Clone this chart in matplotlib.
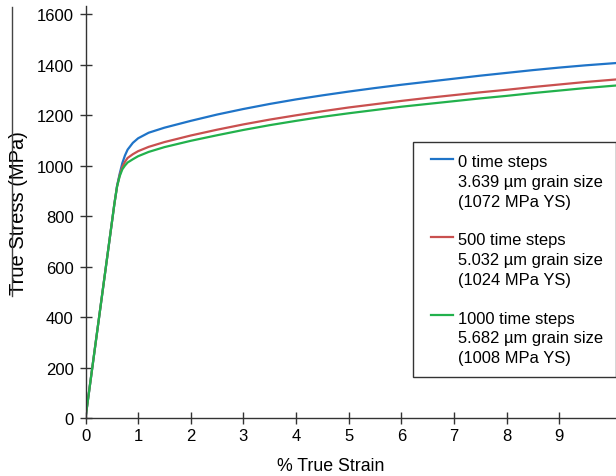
import matplotlib
matplotlib.use("Agg")
import matplotlib.pyplot as plt
from matplotlib.lines import Line2D
from matplotlib.legend_handler import HandlerLine2D

plt.rcParams["font.family"] = ["Liberation Sans", "DejaVu Sans"]

# % true strain sample points
strain = [0, 0.55, 0.60, 0.65, 0.70, 0.75, 0.80, 0.90, 1.0, 1.2, 1.5, 2.0,
          2.5, 3.0, 3.5, 4.0, 4.5, 5.0, 5.5, 6.0, 6.5, 7.0, 7.5, 8.0, 8.5,
          9.0, 9.5, 10.08]

stress_0 = [0, 850, 920, 968, 1010, 1040, 1063, 1090, 1108, 1130, 1150, 1177,
            1202, 1224, 1244, 1262, 1278, 1293, 1307, 1320, 1332, 1344, 1356,
            1367, 1378, 1388, 1397, 1406]
stress_500 = [0, 850, 918, 962, 995, 1015, 1030, 1045, 1057, 1074, 1093, 1119,
              1142, 1163, 1182, 1199, 1215, 1230, 1243, 1256, 1268, 1279, 1290,
              1300, 1311, 1321, 1331, 1341]
stress_1000 = [0, 850, 917, 958, 985, 1000, 1012, 1025, 1037, 1054, 1073, 1098,
               1120, 1141, 1160, 1177, 1193, 1207, 1220, 1233, 1244, 1255, 1266,
               1276, 1287, 1297, 1307, 1317]

labels = [
    "0 time steps\n3.639 \u00b5m grain size\n(1072 MPa YS)",
    "500 time steps\n5.032 \u00b5m grain size\n(1024 MPa YS)",
    "1000 time steps\n5.682 \u00b5m grain size\n(1008 MPa YS)",
]
colors = ["#1f74c8", "#c9504f", "#22b14c"]


class FirstLineHandler(HandlerLine2D):
    # put the legend swatch level with the first text line, nudged right
    def create_artists(self, legend, orig_handle, xdescent, ydescent,
                       width, height, fontsize, trans):
        artists = super().create_artists(legend, orig_handle, xdescent,
                                         ydescent, width, height, fontsize,
                                         trans)
        for a in artists:
            x = list(a.get_xdata())
            y = a.get_ydata()
            x[0] = x[0] + 0.35 * fontsize
            a.set_xdata(x)
            a.set_ydata([v + 1.38 * fontsize for v in y])
        return artists


W, H = 616, 477
fig = plt.figure(figsize=(W / 100, H / 100), dpi=100)
ax = fig.add_axes([85.5 / W, 1 - 419 / H, 1 - 85.5 / W, (419 - 7) / H])

for ys, c, lab in zip([stress_0, stress_500, stress_1000], colors, labels):
    ax.plot(strain, ys, color=c, lw=1.6, label=lab)

ax.set_xlim(0, 10.08)
ax.set_ylim(0, 1632)
ax.set_xticks(range(0, 10))
ax.set_yticks(range(0, 1601, 200))
ax.tick_params(direction="inout", length=8, width=1, labelsize=12, pad=3,
               color="#333333")
ax.tick_params(axis="y", pad=4.5)
for s in ["top", "right"]:
    ax.spines[s].set_visible(False)
for s in ["left", "bottom"]:
    ax.spines[s].set_color("#333333")
    ax.spines[s].set_linewidth(1)

ax.set_xlabel("% True Strain", fontsize=12.8)
ax.xaxis.set_label_coords((331 - 85.5) / (W - 85.5), -(458 - 419) / 412)
ax.set_ylabel("True Stress (MPa)", fontsize=14.5)
ax.yaxis.set_label_coords(-(85.5 - 28) / (W - 85.5), 0.5)

leg = ax.legend(loc="upper left", bbox_to_anchor=(413 / W, 1 - 143 / H),
                bbox_transform=fig.transFigure, fontsize=11.9, frameon=True,
                fancybox=False, edgecolor="black", handlelength=1.65,
                handletextpad=0.35, labelspacing=1.45, borderpad=0.75,
                borderaxespad=0, handler_map={Line2D: FirstLineHandler()})
leg.get_frame().set_linewidth(1.0)
for t in leg.get_texts():
    t.set_linespacing(1.38)

# stray vertical rule at the left edge of the original figure
fig.add_artist(Line2D([12 / W, 12 / W], [1 - 8 / H, 1 - 297 / H],
                      color="#444444", lw=1))

fig.savefig("out.png", dpi=100, facecolor="white")
